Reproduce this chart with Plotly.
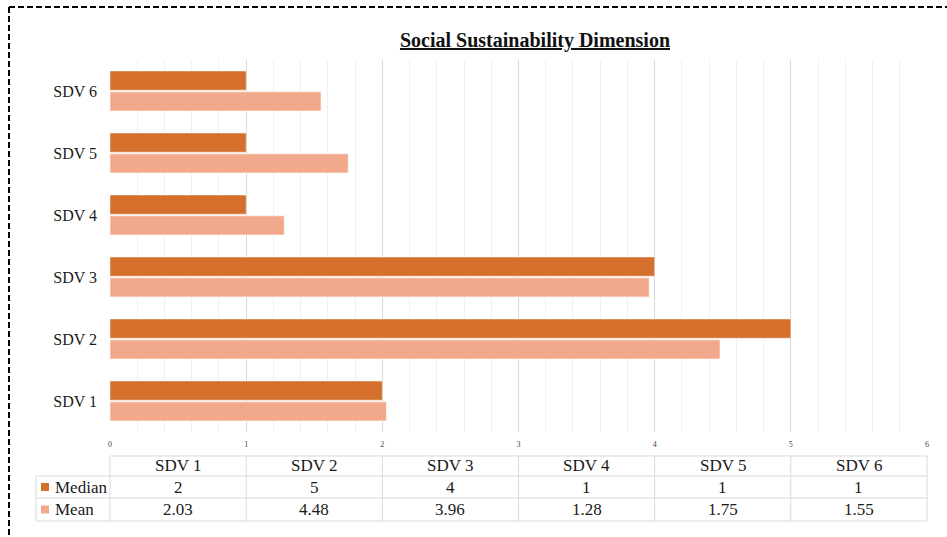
import plotly.graph_objects as go

categories = ["SDV 1", "SDV 2", "SDV 3", "SDV 4", "SDV 5", "SDV 6"]
median_vals = [2, 5, 4, 1, 1, 1]
mean_vals = [2.03, 4.48, 3.96, 1.28, 1.75, 1.55]
series_names = ["Median", "Mean"]

MEDIAN_COLOR = "#D4702B"
MEAN_COLOR = "#F2A98B"
SERIF = "Liberation Serif, Times New Roman, serif"

W, H = 947, 537
L, R, T, B = 110, 20, 60, 105
plot_w = W - L - R
plot_h = H - T - B


def px(x):
    return (x - L) / plot_w


def py(y):
    return (H - B - y) / plot_h


fig = go.Figure()
# Mean drawn first so it sits below Median inside each group
fig.add_trace(go.Bar(
    y=categories, x=mean_vals, orientation="h", name="Mean",
    marker=dict(color=MEAN_COLOR, line=dict(color="rgba(255,255,255,0.55)", width=1)),
))
fig.add_trace(go.Bar(
    y=categories, x=median_vals, orientation="h", name="Median",
    marker=dict(color=MEDIAN_COLOR, line=dict(color="rgba(255,255,255,0.45)", width=1)),
))

shapes = []
annotations = []

# data table under the chart
grid = "#d9d9d9"
row_tops = [456, 476, 498, 521]
x_left_table = 36
col_edges = [px(L + i * plot_w / 6) for i in range(7)]
# horizontal lines
shapes.append(dict(type="line", xref="paper", yref="paper", x0=col_edges[0], x1=col_edges[-1],
                   y0=py(row_tops[0]), y1=py(row_tops[0]), line=dict(color=grid, width=1)))
for yy in row_tops[1:]:
    shapes.append(dict(type="line", xref="paper", yref="paper", x0=px(x_left_table), x1=col_edges[-1],
                       y0=py(yy), y1=py(yy), line=dict(color=grid, width=1)))
# vertical lines
for xe in col_edges:
    shapes.append(dict(type="line", xref="paper", yref="paper", x0=xe, x1=xe,
                       y0=py(row_tops[0]), y1=py(row_tops[-1]), line=dict(color=grid, width=1)))
shapes.append(dict(type="line", xref="paper", yref="paper", x0=px(x_left_table), x1=px(x_left_table),
                   y0=py(row_tops[1]), y1=py(row_tops[-1]), line=dict(color=grid, width=1)))

row_centers = [(row_tops[i] + row_tops[i + 1]) / 2 for i in range(3)]
for i, cat in enumerate(categories):
    xc = (col_edges[i] + col_edges[i + 1]) / 2
    for rc, txt in zip(row_centers, [cat, str(median_vals[i]), str(mean_vals[i])]):
        annotations.append(dict(x=xc, y=py(rc), xref="paper", yref="paper", text=txt,
                                showarrow=False, font=dict(family=SERIF, size=17, color="#1a1a1a"),
                                xanchor="center", yanchor="middle"))

# legend keys inside the table
for rc, name, col in zip(row_centers[1:], series_names, [MEDIAN_COLOR, MEAN_COLOR]):
    shapes.append(dict(type="rect", xref="paper", yref="paper",
                       x0=px(41), x1=px(49), y0=py(rc - 4), y1=py(rc + 4),
                       fillcolor=col, line=dict(width=0)))
    annotations.append(dict(x=px(53), y=py(rc), xref="paper", yref="paper", text=name,
                            showarrow=False, font=dict(family=SERIF, size=17, color="#1a1a1a"),
                            xanchor="left", yanchor="middle"))

# dashed frame along top and left
frame = dict(color="black", width=2, dash="6px,3px")
shapes.append(dict(type="line", xref="paper", yref="paper", x0=px(9), x1=px(W + 5),
                   y0=py(7), y1=py(7), line=frame))
shapes.append(dict(type="line", xref="paper", yref="paper", x0=px(9), x1=px(9),
                   y0=py(7), y1=py(H + 5), line=frame))

fig.update_layout(
    width=W, height=H,
    margin=dict(l=L, r=R, t=T, b=B),
    paper_bgcolor="white", plot_bgcolor="white",
    barmode="group", bargap=0.33, bargroupgap=0.08,
    showlegend=False,
    title=dict(text="<b><u>Social Sustainability Dimension</u></b>", xref="container", x=535 / W,
               xanchor="center", yref="container", y=1 - 40 / H, yanchor="middle",
               font=dict(family=SERIF, size=20, color="#111111")),
    xaxis=dict(range=[0, 6], dtick=1, showgrid=True, gridcolor="#d9d9d9", gridwidth=1,
               zeroline=False, showline=False,
               minor=dict(dtick=0.2, showgrid=True, gridcolor="#f0f0f0", gridwidth=1),
               tickfont=dict(family=SERIF, size=8, color="#444444"),
               ticks="", ticklabelstandoff=6),
    yaxis=dict(categoryorder="array", categoryarray=categories,
               showgrid=False, zeroline=False, showline=False, ticks="",
               tickfont=dict(family=SERIF, size=16, color="#1a1a1a"),
               ticklabelstandoff=12),
    shapes=shapes,
    annotations=annotations,
    font=dict(family=SERIF),
)

fig.write_html("out.html")
